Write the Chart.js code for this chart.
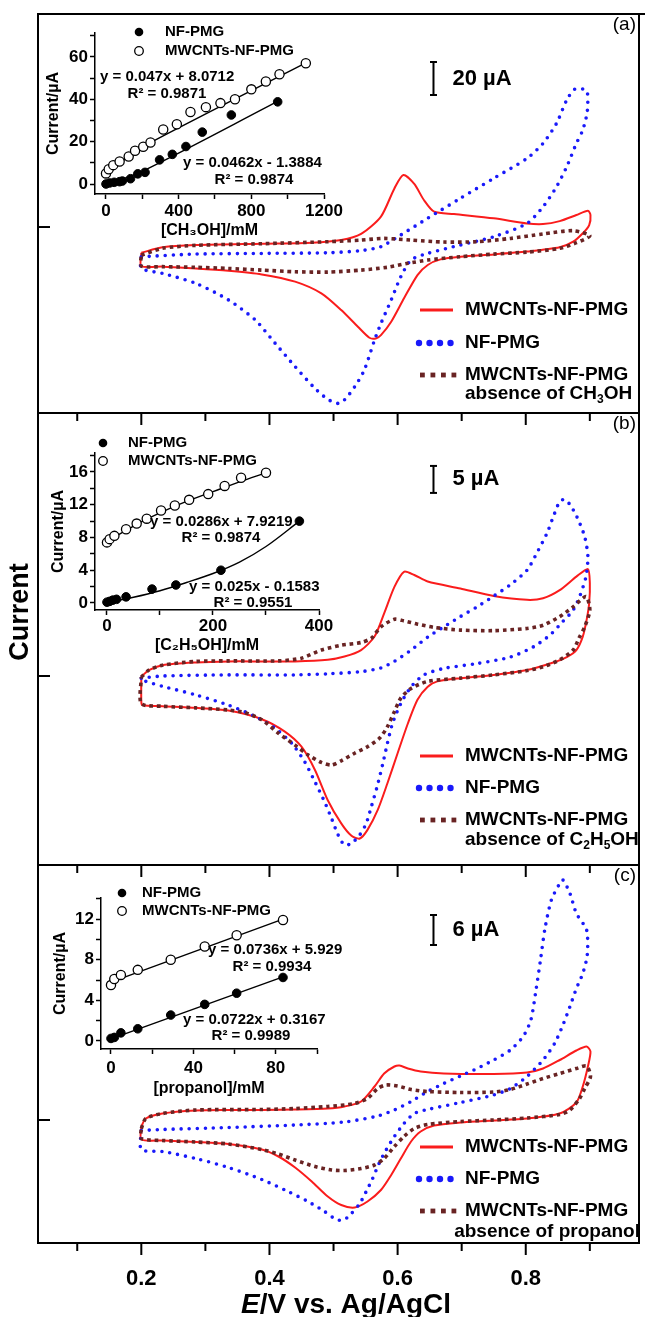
<!DOCTYPE html>
<html><head><meta charset="utf-8">
<script src="https://cdn.jsdelivr.net/npm/chart.js@4.4.1/dist/chart.umd.min.js"></script>
<style>
html,body{margin:0;padding:0;background:#fff;}
#wrap{position:relative;width:645px;height:1317px;overflow:hidden;background:#fff;}
canvas{position:absolute;}
</style></head><body>
<div id="wrap">
<canvas id="main" width="645" height="1317" style="left:0;top:0;"></canvas>
<canvas id="inA" width="330" height="230" style="left:40px;top:14px;"></canvas>
<canvas id="inB" width="330" height="235" style="left:40px;top:428px;"></canvas>
<canvas id="inC" width="330" height="225" style="left:40px;top:878px;"></canvas>
</div>
<script>
// ---------------- DATA ----------------
// x ticks (E / V)
const xMajorTicks = [0.2, 0.4, 0.6, 0.8];
const xMinorTicks = [0.1, 0.3, 0.5, 0.7, 0.9];

// Panel (a) – methanol
const aRedE = [0.200,0.233,0.285,0.388,0.466,0.512,0.543,0.574,0.595,0.609,0.626,0.641,0.657,0.688,0.750,0.802,0.827,0.853,0.879,0.897,0.901,0.899,0.889,0.874,0.853,0.802,0.750,0.698,0.667,0.647,0.631,0.610,0.590,0.574,0.566,0.556,0.538,0.512,0.481,0.440,0.388,0.336,0.285,0.233,0.200,0.200];
const aRedI = [-15.6,-12.3,-10.9,-10.1,-9.5,-7.9,-4.2,6.3,23.4,31.5,26.1,16.4,9.3,7.9,5.3,2.2,1.8,3.6,7.3,9.9,7.3,1.2,-3.8,-8.9,-12.3,-14.9,-16.6,-18.0,-19.6,-23.0,-29.1,-43.2,-57.4,-65.5,-67.5,-67.1,-60.4,-50.3,-40.2,-33.1,-28.7,-26.5,-25.1,-24.0,-23.6,-15.6];
const aBlueE = [0.200,0.285,0.388,0.491,0.543,0.574,0.605,0.647,0.698,0.750,0.802,0.827,0.848,0.864,0.876,0.889,0.896,0.896,0.889,0.879,0.864,0.848,0.827,0.802,0.750,0.698,0.647,0.621,0.605,0.590,0.574,0.564,0.548,0.533,0.517,0.507,0.491,0.471,0.440,0.409,0.378,0.336,0.285,0.233,0.200,0.200];
const aBlueI = [-18.0,-16.4,-16.0,-15.6,-14.3,-11.9,-4.8,5.3,17.4,29.5,41.6,50.7,62.8,77.0,83.4,83.6,82.0,69.9,58.8,50.7,36.6,24.4,12.3,2.2,-5.9,-10.9,-16.0,-20.0,-30.1,-44.2,-58.4,-68.5,-86.7,-96.8,-104.8,-106.9,-104.4,-97.8,-84.6,-70.5,-56.4,-44.2,-34.1,-28.1,-25.1,-18.0];
const aBrownE = [0.200,0.233,0.285,0.388,0.491,0.543,0.579,0.621,0.672,0.724,0.776,0.827,0.874,0.900,0.879,0.853,0.802,0.750,0.698,0.647,0.616,0.584,0.543,0.491,0.440,0.388,0.336,0.285,0.233,0.200,0.200];
const aBrownI = [-17.0,-12.9,-11.1,-10.1,-8.9,-7.9,-6.9,-7.9,-9.1,-8.9,-6.9,-4.2,-2.2,-5.3,-9.5,-12.9,-15.2,-16.4,-18.0,-20.0,-22.0,-24.4,-26.1,-27.3,-27.1,-26.1,-25.1,-24.4,-24.0,-23.6,-17.0];

// Panel (b) – ethanol
const bRedE = [0.200,0.212,0.233,0.285,0.336,0.388,0.440,0.491,0.517,0.543,0.564,0.579,0.595,0.610,0.626,0.647,0.698,0.750,0.802,0.827,0.853,0.879,0.897,0.900,0.899,0.895,0.889,0.879,0.864,0.843,0.802,0.750,0.698,0.662,0.647,0.631,0.616,0.600,0.584,0.569,0.553,0.541,0.528,0.512,0.491,0.471,0.450,0.424,0.388,0.336,0.285,0.233,0.202,0.200,0.200];
const bRedI = [-0.1,1.1,2.0,2.5,2.7,2.7,2.7,3.0,3.6,4.8,7.3,11.6,16.5,19.3,18.7,17.5,16.2,14.8,14.1,14.4,15.9,18.4,19.8,17.2,13.5,10.4,7.3,4.8,3.5,2.5,1.1,0.2,-0.4,-1.0,-2.0,-4.4,-8.8,-14.3,-19.9,-24.8,-28.5,-30.1,-29.6,-27.3,-23.0,-17.4,-13.1,-10.3,-8.0,-6.4,-5.9,-5.6,-5.4,-4.8,-0.1];
const bBlueE = [0.200,0.233,0.336,0.440,0.491,0.543,0.574,0.595,0.621,0.647,0.672,0.698,0.724,0.750,0.776,0.802,0.817,0.833,0.843,0.853,0.861,0.871,0.882,0.892,0.897,0.894,0.885,0.874,0.858,0.838,0.812,0.776,0.724,0.672,0.641,0.621,0.605,0.592,0.584,0.577,0.568,0.559,0.551,0.541,0.528,0.517,0.507,0.497,0.486,0.471,0.455,0.435,0.409,0.378,0.336,0.285,0.233,0.200,0.200];
const bBlueI = [-0.4,0.0,0.2,0.2,0.4,0.8,1.5,2.7,4.8,7.2,9.1,11.0,12.8,14.8,16.9,19.6,22.7,26.4,29.5,32.3,32.7,31.4,28.9,25.8,22.1,18.4,15.0,12.2,10.1,7.6,5.4,3.5,2.3,1.4,0.2,-2.0,-5.1,-8.8,-12.5,-16.2,-20.5,-24.2,-27.3,-29.4,-31.0,-31.3,-29.4,-26.4,-23.3,-19.6,-15.9,-12.5,-9.7,-7.5,-5.4,-3.5,-1.9,-0.7,-0.4];
const bBrownE = [0.200,0.212,0.233,0.285,0.336,0.414,0.450,0.481,0.512,0.543,0.559,0.574,0.595,0.610,0.631,0.657,0.698,0.750,0.802,0.827,0.853,0.874,0.894,0.900,0.892,0.883,0.874,0.853,0.827,0.802,0.750,0.698,0.647,0.621,0.605,0.595,0.584,0.572,0.553,0.533,0.512,0.497,0.481,0.460,0.440,0.414,0.388,0.362,0.336,0.285,0.233,0.200,0.200];
const bBrownI = [-0.2,1.1,2.0,2.7,2.8,2.8,3.3,4.8,5.7,6.2,7.0,9.1,10.5,10.2,9.6,9.0,8.5,8.4,8.8,9.4,11.0,12.8,14.7,12.2,9.1,7.0,4.8,3.0,1.7,1.0,0.2,-0.4,-1.0,-2.3,-4.1,-6.6,-9.4,-11.5,-13.1,-14.3,-15.7,-16.5,-16.0,-14.6,-12.8,-10.6,-8.1,-6.8,-6.3,-5.9,-5.6,-5.1,-0.2];

// Panel (c) – propanol
const cRedE = [0.200,0.207,0.233,0.285,0.336,0.388,0.440,0.491,0.517,0.543,0.564,0.579,0.595,0.603,0.616,0.636,0.672,0.750,0.802,0.827,0.853,0.879,0.895,0.901,0.897,0.889,0.879,0.853,0.802,0.750,0.698,0.657,0.636,0.621,0.605,0.590,0.574,0.553,0.533,0.512,0.491,0.466,0.440,0.414,0.388,0.336,0.285,0.233,0.200,0.200];
const cRedI = [-1.3,0.3,1.3,1.9,2.0,2.0,2.1,2.3,2.7,3.7,6.7,9.3,10.7,10.9,10.3,9.7,9.3,9.2,9.5,10.3,12.0,13.9,14.7,13.7,10.7,6.7,3.5,1.3,0.3,-0.1,-0.5,-1.1,-2.3,-4.3,-7.7,-11.0,-14.0,-16.3,-17.5,-17.0,-15.3,-12.3,-9.5,-7.3,-5.9,-4.8,-4.4,-4.1,-3.9,-1.3];
const cBlueE = [0.200,0.233,0.336,0.440,0.517,0.569,0.595,0.621,0.647,0.672,0.698,0.724,0.750,0.776,0.796,0.808,0.816,0.823,0.830,0.840,0.853,0.858,0.869,0.879,0.895,0.896,0.889,0.879,0.869,0.858,0.845,0.827,0.802,0.776,0.750,0.698,0.647,0.626,0.610,0.595,0.582,0.571,0.561,0.551,0.541,0.528,0.516,0.504,0.486,0.460,0.429,0.388,0.336,0.285,0.233,0.200,0.200];
const cBlueI = [-2.1,-1.9,-1.5,-1.0,-0.4,0.8,2.0,3.7,5.7,7.3,8.8,10.3,12.0,14.0,16.7,20.0,26.0,32.0,38.3,44.0,47.3,48.0,45.3,41.3,38.0,33.0,29.3,26.3,22.7,19.0,15.3,12.0,8.7,6.3,5.0,3.5,2.1,1.3,-0.7,-3.3,-6.0,-8.7,-11.7,-14.3,-16.7,-18.7,-20.0,-19.9,-18.3,-16.3,-14.3,-11.9,-9.5,-7.7,-6.3,-5.9,-2.1];
const cBrownE = [0.200,0.207,0.233,0.285,0.388,0.440,0.491,0.533,0.553,0.569,0.582,0.600,0.621,0.647,0.698,0.750,0.776,0.802,0.827,0.853,0.879,0.895,0.901,0.892,0.884,0.869,0.853,0.802,0.750,0.698,0.647,0.626,0.610,0.595,0.579,0.564,0.543,0.517,0.497,0.471,0.440,0.414,0.388,0.336,0.285,0.233,0.200,0.200];
const cBrownI = [-1.7,0.3,1.3,2.0,2.1,2.3,2.7,3.3,4.3,6.3,7.0,6.8,6.1,5.7,5.5,5.6,6.1,7.2,8.3,9.3,10.3,10.8,8.7,6.3,4.3,2.0,1.1,0.4,0.0,-0.3,-0.9,-1.7,-3.3,-5.3,-7.7,-9.0,-9.7,-10.1,-10.0,-9.3,-8.0,-6.8,-5.9,-4.8,-4.4,-4.1,-3.7,-1.7];

// Scale bars (µA) per panel
const scaleBarE    = [0.656, 0.656, 0.656];
const scaleBarLow  = [80, 33.9, 35];
const scaleBarHigh = [100, 38.9, 41];
const scaleBarText = ['20 \u00b5A', '5 \u00b5A', '6 \u00b5A'];
const panelTags = ['(a)', '(b)', '(c)'];
const legendNames = ['MWCNTs-NF-PMG', 'NF-PMG', 'MWCNTs-NF-PMG'];
const absenceText = ['absence of CH\u2083OH', 'absence of C\u2082H\u2085OH', 'absence of propanol'];

// Insets
const inAFilledX = [0, 20, 45, 75, 90, 135, 175, 215, 295, 365, 440, 530, 690, 945];
const inAFilledY = [0.0, 0.5, 0.8, 1.1, 1.4, 2.5, 4.8, 5.5, 11.4, 14.0, 17.7, 24.5, 32.6, 38.8];
const inAOpenX = [0, 15, 40, 75, 125, 160, 205, 245, 315, 390, 465, 550, 630, 710, 800, 880, 955, 1100];
const inAOpenY = [5.0, 7.0, 8.9, 10.6, 13.0, 15.7, 17.6, 19.6, 25.7, 28.2, 34.0, 36.3, 38.2, 40.0, 44.7, 48.4, 51.8, 57.0];
const inAFitFilledX = [0, 200, 945];
const inAFitFilledY = [-0.2, 6.0, 39.0];
const inAFitOpenX = [0, 120, 250, 1100];
const inAFitOpenY = [5.0, 12.6, 19.8, 57.2];

const inBFilledX = [0, 5, 11, 18, 36, 85, 130, 215, 363];
const inBFilledY = [0.1, 0.2, 0.35, 0.45, 0.75, 1.7, 2.2, 4.0, 10.0];
const inBOpenX = [0, 5, 14, 36, 56, 75, 102, 128, 155, 191, 222, 253, 300];
const inBOpenY = [7.4, 7.8, 8.2, 9.0, 9.7, 10.3, 11.3, 11.9, 12.6, 13.3, 14.3, 15.3, 15.9];
const inBFitFilledX = [0, 50, 100, 150, 200, 250, 300, 363];
const inBFitFilledY = [0.05, 0.7, 1.5, 2.5, 3.6, 5.0, 6.9, 10.0];
const inBFitOpenX = [0, 50, 100, 150, 200, 250, 300];
const inBFitOpenY = [7.5, 9.4, 11.0, 12.4, 13.6, 14.8, 15.9];

const inCFilledX = [0, 1.6, 4.8, 13, 29, 45.5, 61, 83.5];
const inCFilledY = [0.25, 0.35, 0.8, 1.2, 2.55, 3.6, 4.7, 6.25];
const inCOpenX = [0, 1.6, 4.8, 13, 29, 45.5, 61, 83.5];
const inCOpenY = [5.5, 6.1, 6.5, 7.0, 8.0, 9.3, 10.4, 11.9];
const inCFitFilledX = [0, 83.5];
const inCFitFilledY = [0.2, 6.3];
const inCFitOpenX = [0, 83.5];
const inCFitOpenY = [5.8, 12.0];

const inAXTicks = [0, 200, 400, 600, 800, 1000, 1200];
const inAXLabels = [0, 400, 800, 1200];
const inAYTicks = [0, 10, 20, 30, 40, 50, 60, 70];
const inAYLabels = [0, 20, 40, 60];
const inBXTicks = [0, 100, 200, 300, 400];
const inBXLabels = [0, 200, 400];
const inBYTicks = [0, 2, 4, 6, 8, 10, 12, 14, 16, 18];
const inBYLabels = [0, 4, 8, 12, 16];
const inCXTicks = [0, 20, 40, 60, 80, 100];
const inCXLabels = [0, 40, 80];
const inCYTicks = [0, 2, 4, 6, 8, 10, 12, 14];
const inCYLabels = [0, 4, 8, 12];

const inNames = ['NF-PMG', 'MWCNTs-NF-PMG'];
const inAEq = ['y = 0.047x + 8.0712', 'R\u00b2 = 0.9871', 'y = 0.0462x - 1.3884', 'R\u00b2 = 0.9874'];
const inBEq = ['y = 0.0286x + 7.9219', 'R\u00b2 = 0.9874', 'y = 0.025x - 0.1583', 'R\u00b2 = 0.9551'];
const inCEq = ['y = 0.0736x + 5.929', 'R\u00b2 = 0.9934', 'y = 0.0722x + 0.3167', 'R\u00b2 = 0.9989'];

// ---------------- STYLE / LAYOUT ----------------
const FONT = '"Liberation Sans", Arial, Helvetica, sans-serif';
const RED = 'rgb(250,28,28)', BLUE = 'rgb(25,25,250)', BROWN = 'rgb(105,35,35)';
const pts = (xs, ys) => xs.map((x, i) => ({x: x, y: ys[i]}));

// draw text where unicode subscript digits are rendered small and lowered
const SUBS = '\u2080\u2081\u2082\u2083\u2084\u2085\u2086\u2087\u2088\u2089';
function richParts(str) {
  const parts = [];
  for (const ch of str) {
    const k = SUBS.indexOf(ch);
    const sub = k >= 0;
    const c = sub ? String(k) : ch;
    if (parts.length && parts[parts.length - 1].sub === sub) parts[parts.length - 1].t += c;
    else parts.push({t: c, sub: sub});
  }
  return parts;
}
function richText(ctx, str, x, y, align, size, weight) {
  const parts = richParts(str);
  const fNorm = weight + ' ' + size + 'px ' + FONT;
  const fSub = weight + ' ' + Math.round(size * 0.62) + 'px ' + FONT;
  let w = 0;
  parts.forEach(p => { ctx.font = p.sub ? fSub : fNorm; p.w = ctx.measureText(p.t).width; w += p.w; });
  let cx = align === 'right' ? x - w : (align === 'center' ? x - w / 2 : x);
  ctx.textAlign = 'left';
  parts.forEach(p => {
    ctx.font = p.sub ? fSub : fNorm;
    ctx.fillText(p.t, cx, p.sub ? y + size * 0.28 : y);
    cx += p.w;
  });
}

function cv(xs, ys, axis, kind) {
  const base = {data: pts(xs, ys), yAxisID: axis, xAxisID: 'x', pointRadius: 0, fill: false, tension: 0.25};
  if (kind === 'red') return Object.assign(base, {borderColor: RED, borderWidth: 2, order: 3});
  if (kind === 'blue') return Object.assign(base, {borderColor: BLUE, borderWidth: 3.6, borderDash: [0, 8], borderCapStyle: 'round', order: 2});
  return Object.assign(base, {borderColor: BROWN, borderWidth: 3.6, borderDash: [3.6, 3.8], borderCapStyle: 'butt', order: 1});
}
function bar(i, axis) {
  return {data: [{x: scaleBarE[i], y: scaleBarLow[i]}, {x: scaleBarE[i], y: scaleBarHigh[i]}], yAxisID: axis, xAxisID: 'x',
    borderColor: '#000', borderWidth: 2, pointStyle: 'line', pointRadius: 3.5, pointBorderWidth: 2, pointBorderColor: '#000', tension: 0, order: 0};
}

const PANELS = [
  {axis: 'yA', leg: [310, 343, 375, 394], lastAlign: 'left'},
  {axis: 'yB', leg: [756, 788, 820, 840], lastAlign: 'left'},
  {axis: 'yC', leg: [1147, 1179, 1211, 1232], lastAlign: 'right'}
];

const mainDecor = {
  id: 'mainDecor',
  afterDraw(chart) {
    const ctx = chart.ctx, a = chart.chartArea, sc = chart.scales, xs = sc.x;
    ctx.save();
    ctx.strokeStyle = '#000'; ctx.lineWidth = 2; ctx.setLineDash([]);
    const seg = (x1, y1, x2, y2) => { ctx.beginPath(); ctx.moveTo(x1, y1); ctx.lineTo(x2, y2); ctx.stroke(); };
    seg(a.left - 1, a.top, 645, a.top);
    seg(a.left, a.top, a.left, a.bottom + 1);
    seg(a.right, a.top, a.right, a.bottom + 1);
    PANELS.forEach((p, i) => {
      const ys = sc[p.axis];
      ctx.strokeStyle = '#000'; ctx.lineWidth = 2; ctx.setLineDash([]);
      seg(a.left - 1, ys.bottom, a.right + 1, ys.bottom);
      xMajorTicks.forEach(v => { const px = xs.getPixelForValue(v); seg(px, ys.bottom, px, ys.bottom + 12); });
      xMinorTicks.forEach(v => { const px = xs.getPixelForValue(v); seg(px, ys.bottom, px, ys.bottom + 8); });
      const y0 = ys.getPixelForValue(0);
      seg(a.left, y0, a.left + 12, y0);
      ctx.fillStyle = '#000'; ctx.textBaseline = 'middle';
      ctx.font = '19px ' + FONT; ctx.textAlign = 'right';
      ctx.fillText(panelTags[i], a.right - 3, ys.top + 11);
      const bx = xs.getPixelForValue(scaleBarE[i]);
      const bm = (ys.getPixelForValue(scaleBarLow[i]) + ys.getPixelForValue(scaleBarHigh[i])) / 2;
      ctx.font = 'bold 22px ' + FONT; ctx.textAlign = 'left';
      ctx.fillText(scaleBarText[i], bx + 19, bm);
      // legend
      const L = p.leg, x0 = 420, x1 = 453, tx = 465;
      ctx.strokeStyle = RED; ctx.lineWidth = 3; seg(x0, L[0], x1, L[0]);
      ctx.fillStyle = BLUE;
      for (let k = 0; k < 4; k++) { ctx.beginPath(); ctx.arc(x0 - 1 + k * 10.5, L[1], 3.2, 0, Math.PI * 2); ctx.fill(); }
      ctx.fillStyle = BROWN;
      for (let k = 0; k < 4; k++) { ctx.fillRect(x0 + k * 10.5, L[2] - 2.4, 4.8, 4.8); }
      ctx.fillStyle = '#000'; ctx.font = 'bold 19px ' + FONT; ctx.textAlign = 'left';
      ctx.fillText(legendNames[0], tx, L[0]);
      ctx.fillText(legendNames[1], tx, L[1]);
      ctx.fillText(legendNames[2], tx, L[2]);
      if (p.lastAlign === 'right') richText(ctx, absenceText[i], 640, L[3], 'right', 19, 'bold');
      else richText(ctx, absenceText[i], tx, L[3], 'left', 19, 'bold');
    });
    // y title
    ctx.fillStyle = '#000';
    ctx.save(); ctx.translate(21, 612); ctx.rotate(-Math.PI / 2);
    ctx.font = 'bold 27px ' + FONT; ctx.textAlign = 'center'; ctx.textBaseline = 'middle';
    ctx.fillText('Current', 0, 0); ctx.restore();
    // x title with italic E
    const t1 = 'E', t2 = '/V vs. Ag/AgCl';
    ctx.textBaseline = 'alphabetic'; ctx.textAlign = 'left';
    ctx.font = 'italic bold 28px ' + FONT; const w1 = ctx.measureText(t1).width;
    ctx.font = 'bold 28px ' + FONT; const w2 = ctx.measureText(t2).width;
    const sx = 346 - (w1 + w2) / 2;
    ctx.font = 'italic bold 28px ' + FONT; ctx.fillText(t1, sx, 1313);
    ctx.font = 'bold 28px ' + FONT; ctx.fillText(t2, sx + w1, 1313);
    ctx.restore();
  }
};

const yCommon = (min, max, weight, sw) => ({
  type: 'linear', position: 'left', stack: 'cv', stackWeight: sw, weight: weight, min: min, max: max,
  grid: {display: false, drawTicks: false}, border: {display: false}, ticks: {display: false},
  afterFit: s => { s.width = 38; s.paddingTop = 0; s.paddingBottom = 0; }
});

new Chart(document.getElementById('main'), {
  type: 'line',
  data: {datasets: [
    cv(aRedE, aRedI, 'yA', 'red'), cv(aBlueE, aBlueI, 'yA', 'blue'), cv(aBrownE, aBrownI, 'yA', 'brown'), bar(0, 'yA'),
    cv(bRedE, bRedI, 'yB', 'red'), cv(bBlueE, bBlueI, 'yB', 'blue'), cv(bBrownE, bBrownI, 'yB', 'brown'), bar(1, 'yB'),
    cv(cRedE, cRedI, 'yC', 'red'), cv(cBlueE, cBlueI, 'yC', 'blue'), cv(cBrownE, cBrownI, 'yC', 'brown'), bar(2, 'yC')
  ]},
  options: {
    responsive: false, animation: false, events: [],
    layout: {padding: {top: 14, right: 2, left: 0, bottom: 0}},
    plugins: {legend: {display: false}, tooltip: {enabled: false}},
    scales: {
      x: {type: 'linear', position: 'bottom', min: 0.03876, max: 0.97674,
        grid: {display: false, drawTicks: false}, border: {display: false},
        afterBuildTicks: s => { s.ticks = xMajorTicks.map(v => ({value: v})); },
        ticks: {color: '#000', font: {family: FONT, size: 22, weight: 'bold'}, padding: 23, maxRotation: 0, autoSkip: false,
          callback: v => Number(v).toFixed(1)},
        afterFit: s => { s.height = 74; s.paddingLeft = 0; s.paddingRight = 0; }
      },
      yA: yCommon(-112.7, 129.1, 3, 399),
      yB: yCommon(-35.0, 48.7, 2, 452),
      yC: yCommon(-24.6, 51.0, 1, 378)
    }
  },
  plugins: [mainDecor]
});

// ---------------- INSETS ----------------
function insetDecor(c) {
  return {
    id: 'insetDecor',
    afterDraw(chart) {
      const ctx = chart.ctx;
      ctx.save();
      ctx.textBaseline = 'middle'; ctx.textAlign = 'left';
      ctx.font = 'bold 15px ' + FONT;
      ctx.fillStyle = '#000';
      ctx.beginPath(); ctx.arc(c.legX, c.legY[0], 4.3, 0, Math.PI * 2); ctx.fill();
      ctx.fillText(inNames[0], c.legTX, c.legY[0]);
      ctx.beginPath(); ctx.arc(c.legX, c.legY[1], 4.3, 0, Math.PI * 2);
      ctx.fillStyle = '#fff'; ctx.fill(); ctx.lineWidth = 1.3; ctx.strokeStyle = '#000'; ctx.stroke();
      ctx.fillStyle = '#000';
      ctx.fillText(inNames[1], c.legTX, c.legY[1]);
      c.eq.forEach((t, k) => {
        const p = c.eqPos[k];
        ctx.textAlign = p[2];
        ctx.fillText(t, p[0], p[1]);
      });
      ctx.restore();
    }
  };
}

function inset(id, c) {
  const tickFont = {family: FONT, size: 17, weight: 'bold'};
  const titleFont = {family: FONT, size: 16, weight: 'bold'};
  new Chart(document.getElementById(id), {
    type: 'scatter',
    data: {datasets: [
      {data: pts(c.fx, c.fy), pointRadius: 4.3, pointBackgroundColor: '#000', pointBorderColor: '#000', pointBorderWidth: 1, showLine: false, order: 0},
      {data: pts(c.ox, c.oy), pointRadius: 4.6, pointBackgroundColor: '#fff', pointBorderColor: '#000', pointBorderWidth: 1.3, showLine: false, order: 0},
      {type: 'line', data: pts(c.lfx, c.lfy), borderColor: '#000', borderWidth: 1.4, pointRadius: 0, tension: c.tension, fill: false, order: 1},
      {type: 'line', data: pts(c.lox, c.loy), borderColor: '#000', borderWidth: 1.4, pointRadius: 0, tension: c.tension, fill: false, order: 1}
    ]},
    options: {
      responsive: false, animation: false, events: [],
      layout: {padding: {top: c.padTop, right: c.padRight, left: 0, bottom: 0}},
      plugins: {legend: {display: false}, tooltip: {enabled: false}},
      scales: {
        x: {type: 'linear', min: c.xMin, max: c.xMax,
          afterBuildTicks: s => { s.ticks = c.xTicks.map(v => ({value: v})); },
          ticks: {color: '#000', font: tickFont, padding: c.xPad, maxRotation: 0, autoSkip: false,
            callback: v => c.xLabels.includes(v) ? String(v) : ''},
          grid: {drawOnChartArea: false, tickLength: 5, tickWidth: 1.5, tickColor: '#000'},
          border: {color: '#000', width: 1.5},
          title: {display: true, text: c.xTitle, color: '#000', font: titleFont, padding: c.xTitlePad},
          afterFit: s => { s.height = c.xH; s.paddingLeft = 0; s.paddingRight = 0; }
        },
        y: {type: 'linear', min: c.yMin, max: c.yMax,
          afterBuildTicks: s => { s.ticks = c.yTicks.map(v => ({value: v})); },
          ticks: {color: '#000', font: tickFont, padding: 2, autoSkip: false,
            callback: v => c.yLabels.includes(v) ? String(v) : ''},
          grid: {drawOnChartArea: false, tickLength: 5, tickWidth: 1.5, tickColor: '#000'},
          border: {color: '#000', width: 1.5},
          title: {display: true, text: 'Current/\u00b5A', color: '#000', font: titleFont, padding: c.yTitlePad},
          afterFit: s => { s.width = c.yW; s.paddingTop = 0; s.paddingBottom = 0; }
        }
      }
    },
    plugins: [insetDecor(c)]
  });
}

inset('inA', {
  fx: inAFilledX, fy: inAFilledY, ox: inAOpenX, oy: inAOpenY,
  lfx: inAFitFilledX, lfy: inAFitFilledY, lox: inAFitOpenX, loy: inAFitOpenY, tension: 0.3,
  xMin: -60.5, xMax: 1200, yMin: -4.72, yMax: 71.3,
  xTicks: inAXTicks, xLabels: inAXLabels, yTicks: inAYTicks, yLabels: inAYLabels,
  padTop: 19, padRight: 46, yW: 55, xH: 50, xPad: 2, xTitlePad: 4, yTitlePad: 4,
  xTitle: '[CH\u2083OH]/mM',
  legX: 99, legTX: 125, legY: [18, 37],
  eq: inAEq, eqPos: [[60, 63, 'left'], [127, 80, 'center'], [143, 149, 'left'], [214, 166, 'center']]
});
inset('inB', {
  fx: inBFilledX, fy: inBFilledY, ox: inBOpenX, oy: inBOpenY,
  lfx: inBFitFilledX, lfy: inBFitFilledY, lox: inBFitOpenX, loy: inBFitOpenY, tension: 0.35,
  xMin: -22.6, xMax: 400, yMin: -0.855, yMax: 18.32,
  xTicks: inBXTicks, xLabels: inBXLabels, yTicks: inBYTicks, yLabels: inBYLabels,
  padTop: 25, padRight: 51, yW: 55, xH: 53, xPad: 1, xTitlePad: 8, yTitlePad: 9,
  xTitle: '[C\u2082H\u2085OH]/mM',
  legX: 63, legTX: 88, legY: [15, 33],
  eq: inBEq, eqPos: [[110, 94, 'left'], [181, 110, 'center'], [149, 159, 'left'], [213, 175, 'center']]
});
inset('inC', {
  fx: inCFilledX, fy: inCFilledY, ox: inCOpenX, oy: inCOpenY,
  lfx: inCFitFilledX, lfy: inCFitFilledY, lox: inCFitOpenX, loy: inCFitOpenY, tension: 0,
  xMin: -4.85, xMax: 100, yMin: -0.79, yMax: 14.07,
  xTicks: inCXTicks, xLabels: inCXLabels, yTicks: inCYTicks, yLabels: inCYLabels,
  padTop: 20, padRight: 53, yW: 61, xH: 54, xPad: 4, xTitlePad: 5, yTitlePad: 11,
  xTitle: '[propanol]/mM',
  legX: 82, legTX: 102, legY: [15, 33],
  eq: inCEq, eqPos: [[168, 72, 'left'], [232, 89, 'center'], [143, 142, 'left'], [211, 158, 'center']]
});
</script>
</body></html>
